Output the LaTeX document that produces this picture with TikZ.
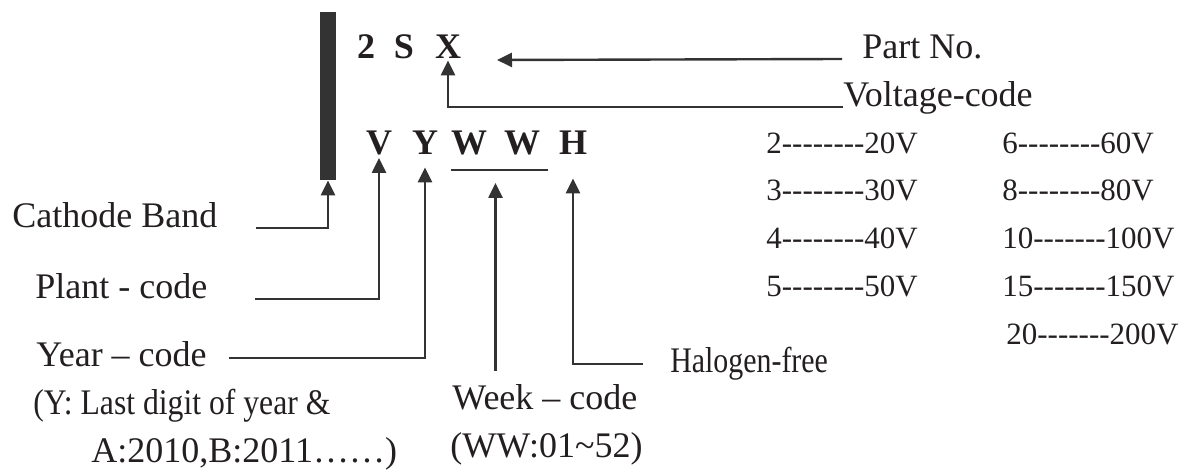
\documentclass[tikz,border=0pt]{standalone}
\usepackage{fontspec}
\setmainfont{Liberation Serif}
\newfontfamily\codefont{Liberation Serif}[Ligatures=TeXOff]
\usetikzlibrary{arrows.meta,calc}
\definecolor{inkgray}{RGB}{51,51,51}
\definecolor{textblack}{RGB}{35,31,32}
\tikzset{
  lbl/.style={inner sep=0pt, anchor=base west, text=textblack, font=\fontsize{18}{20}\selectfont},
  vcode/.style={lbl, font=\codefont\fontsize{15.5}{18}\selectfont},
  mk/.style={inner sep=0pt, anchor=base, text=textblack, font=\fontsize{18}{20}\selectfont\bfseries},
  arr/.style={draw=inkgray, line width=1.2pt, -{Triangle[length=7.5pt,width=7pt]}},
  band/.style={fill=inkgray, inner sep=0pt, minimum width=8pt, minimum height=84pt}
}
\begin{document}
\begin{tikzpicture}[x=0.5pt,y=-0.5pt]
\useasboundingbox (0,0) rectangle (1200,475);
% cathode band and marking
\node[band] (band) at (328,96) {};
\node[mk] (n2) at (366,59) {2};
\node[mk] (ns) at (404,59) {S};
\node[mk] (nx) at (448,59) {X};
\node[mk] (nv) at (379,155) {V};
\node[mk] (ny) at (425,155) {Y};
\node[mk] (nw1) at (469,155) {W};
\node[mk] (nw2) at (522,155) {W};
\node[mk] (nh) at (573,155) {H};
\draw[inkgray, line width=1.2pt] ([yshift=-7pt]nw1.south west) -- ([shift={(4pt,-7pt)}]nw2.south east);
\coordinate (wwtip) at ($(nw1.south)!0.5!(nw2.south)+(0,-13.5pt)$);
% labels
\node[lbl] (partno) at (862,59) {Part No.};
\node[lbl] (volt) at (843,107) {Voltage-code};
\node[lbl] (cathode) at (12,228) {Cathode Band};
\node[lbl] (plant) at (35,299) {Plant - code};
\node[lbl] (year) at (36,367) {Year -- code};
\node[lbl, xscale=0.88] (yearnote) at (33,415) {(Y: Last digit of year \&};
\node[lbl] (yearlist) at (91,463) {A:2010,B:2011\dots\dots)};
\node[lbl] (week) at (452,410) {Week -- code};
\node[lbl] (weeknote) at (450,458) {(WW:01\textasciitilde52)};
\node[lbl, xscale=0.83] (halo) at (670,373) {Halogen-free};
% voltage table
\node[vcode] (c2) at (766,154) {2--------20V};
\node[vcode] (c3) at (766,201) {3--------30V};
\node[vcode] (c4) at (766,249) {4--------40V};
\node[vcode] (c5) at (766,297) {5--------50V};
\node[vcode] (c6) at (1002,154) {6--------60V};
\node[vcode] (c8) at (1002,201) {8--------80V};
\node[vcode] (c10) at (1002,249) {10-------100V};
\node[vcode] (c15) at (1002,297) {15-------150V};
\node[vcode] (c20) at (1006,345) {20-------200V};
% connectors
\coordinate (pntip) at (497,60);
\draw[arr] ([xshift=-10pt]partno.base west) -- (pntip);
\draw[arr] (volt.base west) -| ([yshift=-0.5pt]nx.south);
\draw[arr] ([xshift=19pt]cathode.base east) -| (band.south);
\draw[arr] ([xshift=23.5pt]plant.base east) -| ([yshift=-1pt]nv.south);
\draw[arr] ([shift={(11pt,4.5pt)}]year.base east) -| ([yshift=-6pt]ny.south);
\draw[arr] ($(week.north -| wwtip)+(0,7pt)$) -- (wwtip);
\draw[arr] ([xshift=-13.5pt]halo.west) -| ([yshift=-11.5pt]nh.south);
\end{tikzpicture}
\end{document}
